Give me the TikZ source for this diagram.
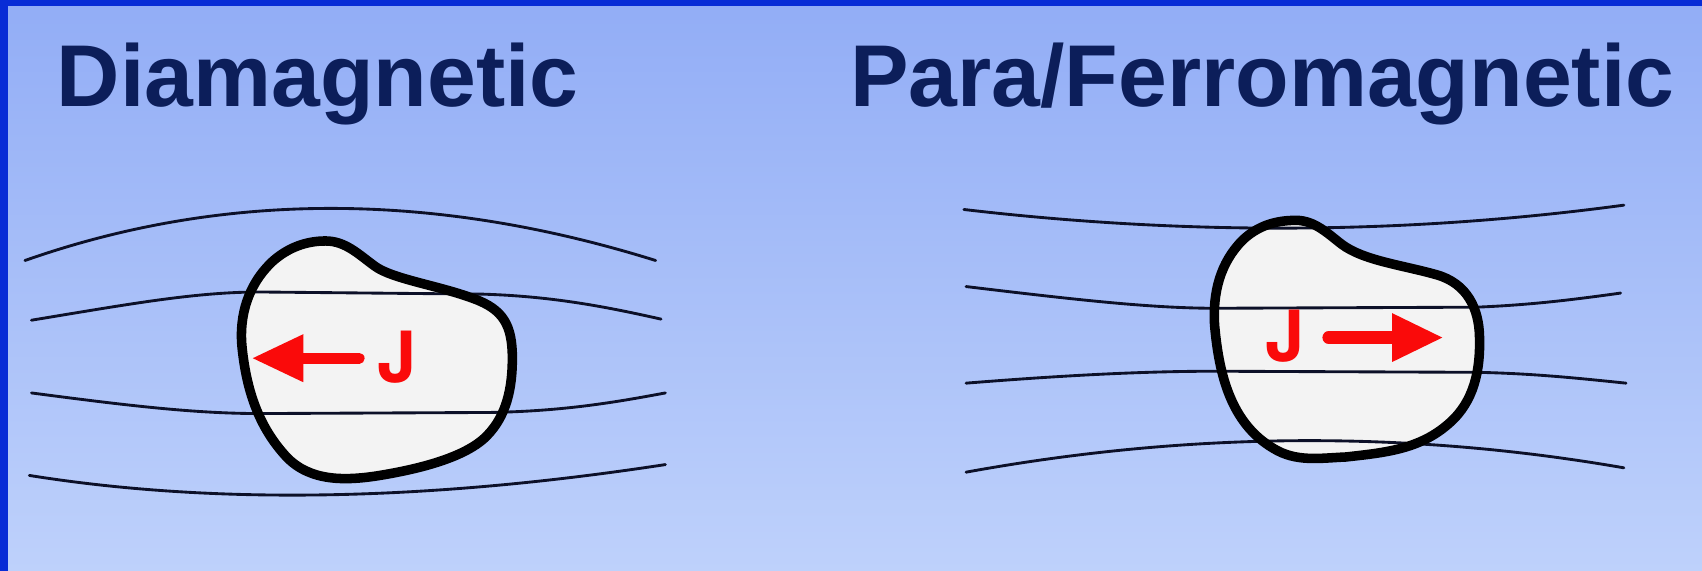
\documentclass[tikz,border=0pt]{standalone}
\usepackage{fontspec}
\setmainfont{Liberation Sans}
\newfontfamily\heros{TeX Gyre Heros}
\usepackage{tikz}
\usetikzlibrary{arrows.meta,positioning}

\definecolor{slidetop}{RGB}{146,173,246}
\definecolor{slidebottom}{RGB}{190,209,251}
\definecolor{slideedge}{RGB}{8,44,214}
\definecolor{titleblue}{RGB}{12,30,90}
\definecolor{fieldline}{RGB}{12,16,40}
\definecolor{lumpfill}{RGB}{243,243,243}
\definecolor{jred}{RGB}{250,10,10}

\tikzset{
  heading/.style={font=\bfseries\fontsize{46}{50}\selectfont, text=titleblue, inner sep=0pt},
  field/.style={fieldline, line width=1.5pt, line cap=round},
  lump/.style={draw=black, line width=5pt, line join=round},
  current/.style={jred, line width=#1, line cap=round, -{Triangle[length=27pt, width=23.5pt]}},
  jlabel/.style={font=\heros\bfseries\fontsize{37}{39}\selectfont, text=jred, inner sep=0pt}
}

\begin{document}
\begin{tikzpicture}[x=0.02cm, y=-0.02cm]
  \useasboundingbox (0,0) rectangle (1568,526);
  \shade[top color=slidetop, bottom color=slidebottom] (0,0) rectangle (1568,526);
  \fill[slideedge] (0,0) rectangle (7,526);
  \fill[slideedge] (0,0) rectangle (1568,5.5);

  \node[heading, anchor=base west] (dia) at (52,98) {Diamagnetic};
  \node[heading, anchor=base west] (para) at (783,98) {Para/Ferromagnetic};

  \def\dialump#1{\path[#1] (300,222) .. controls (318,222) and (330,234) .. (345,245)
    .. controls (361,257) and (404,263) .. (436,275)
    .. controls (464,285) and (472,300) .. (472,330)
    .. controls (472,357) and (467,383) .. (448,402)
    .. controls (427,423) and (380,433) .. (350,438)
    .. controls (319,443) and (286,444) .. (264,421)
    .. controls (238,393) and (227,359) .. (223,320)
    .. controls (220,290) and (229,261) .. (252,240)
    .. controls (266,228) and (282,222) .. cycle;}
  \def\paralump#1{\path[#1] (1194,203) .. controls (1211,203) and (1223,215) .. (1236,225)
    .. controls (1256,240) and (1291,244) .. (1323,253)
    .. controls (1352,261) and (1362.5,285) .. (1363,310)
    .. controls (1364,341) and (1358,370) .. (1335,390)
    .. controls (1308,414) and (1276,417) .. (1240,421)
    .. controls (1216,422) and (1194,426) .. (1173,413)
    .. controls (1134,390) and (1123,345) .. (1119,300)
    .. controls (1117,270) and (1124,242) .. (1145,221)
    .. controls (1159,208) and (1175,203) .. cycle;}

  % diamagnetic body: lines bend around it
  \dialump{fill=lumpfill}
  \draw[field] (23,240) .. controls (205,176) and (399,176) .. (604,240);
  \draw[field] (29,295) .. controls (120,280) and (180,269) .. (240,269)
    -- (445,271) .. controls (510,273) and (560,283) .. (609,294);
  \draw[field] (29,362) .. controls (120,374) and (180,381) .. (240,381)
    -- (450,380) .. controls (520,379) and (570,370) .. (613,362);
  \draw[field] (27,438) .. controls (196,465) and (391,462) .. (613,428);
  \dialump{lump}

  \coordinate (dtail) at (331,330);
  \coordinate (dtip) at (232,330);
  \draw[current=5.6pt] (dtail) -- (dtip);
  \node[jlabel] (dj) at (366,329) {J};

  % para/ferromagnetic body: lines pulled into it
  \paralump{fill=lumpfill}
  \draw[field] (888,193) .. controls (1093,217) and (1296,216) .. (1496,189);
  \draw[field] (890,264) .. controls (990,276) and (1060,284) .. (1120,284)
    -- (1360,283) .. controls (1410,281) and (1450,276) .. (1493,270);
  \draw[field] (890,353) .. controls (990,345) and (1060,342) .. (1120,342)
    -- (1360,343) .. controls (1410,344) and (1450,348) .. (1498,353);
  \draw[field] (890,435) .. controls (1093,398) and (1295,396) .. (1496,431);
  \paralump{lump}

  \node[jlabel] (pj) at (1184,310) {J};
  \coordinate (ptail) at (1224,311);
  \coordinate (ptip) at (1330,311);
  \draw[current=6.5pt] (ptail) -- (ptip);
\end{tikzpicture}
\end{document}
